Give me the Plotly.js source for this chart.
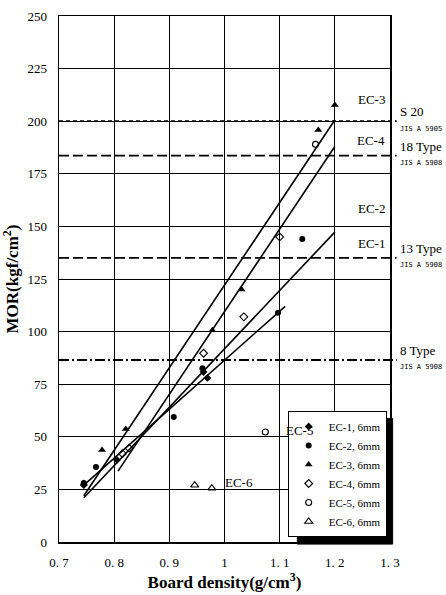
<!DOCTYPE html>
<html><head><meta charset="utf-8">
<script src="https://cdn.plot.ly/plotly-3.0.1.min.js"></script>
<style>html,body{margin:0;padding:0;background:#fff}</style>
</head><body><div id="chart" style="width:446px;height:595px"></div>
<script>
// Series data (board density g/cm3, MOR kgf/cm2)
const seriesNames = ["EC-1, 6mm","EC-2, 6mm","EC-3, 6mm","EC-4, 6mm","EC-5, 6mm","EC-6, 6mm"];
const ec1X = [0.745, 0.805, 0.962, 0.969];
const ec1Y = [27, 39, 80.8, 78];
const ec2X = [0.745, 0.767, 0.908, 0.960, 1.097, 1.141];
const ec2Y = [28, 35.6, 59.4, 82.6, 109, 144];
const ec3X = [0.745, 0.778, 0.821, 0.978, 1.031, 1.170, 1.200];
const ec3Y = [28, 43.7, 53.7, 100.7, 120, 195.8, 207.7];
const ec4X = [0.815, 0.827, 0.962, 1.035, 1.100];
const ec4Y = [42, 44.6, 89.7, 107, 145];
const ec5X = [1.074, 1.165];
const ec5Y = [52.3, 189];
const ec6X = [0.946, 0.977];
const ec6Y = [27, 25.6];
// regression lines: [x0, x1], [y0, y1]
const lineEC3X = [0.745, 1.200], lineEC3Y = [22, 200.6];
const lineEC4X = [0.807, 1.200], lineEC4Y = [33.7, 188];
const lineEC2X = [0.745, 1.200], lineEC2Y = [21, 147.3];
const lineEC1X = [0.745, 1.110], lineEC1Y = [27, 112];
// JIS standard levels
const stdValues = [200, 183.6, 135, 86.5];
const stdNames = ["S 20", "18 Type", "13 Type", "8 Type"];
const stdCodes = ["JIS A 5905", "JIS A 5908", "JIS A 5908", "JIS A 5908"];
const stdDash = ["4px,3px", "10px,4px", "10px,4px", "10px,3px,2px,3px"];
// ticks
const xTickVals = [0.7, 0.8, 0.9, 1.0, 1.1, 1.2, 1.3];
const xTickText = ["0. 7", "0. 8", "0. 9", "1", "1. 1", "1. 2", "1. 3"];
const yTickVals = [0, 25, 50, 75, 100, 125, 150, 175, 200, 225, 250];

const serif = "Liberation Serif, DejaVu Serif, serif";
const mk = [
  {symbol:"diamond", color:"#000", size:6},
  {symbol:"circle", color:"#000", size:6},
  {symbol:"triangle-up", color:"#000", size:7},
  {symbol:"diamond-open", color:"#000", size:6, line:{width:1.1}},
  {symbol:"circle-open", color:"#000", size:6, line:{width:1.1}},
  {symbol:"triangle-up-open", color:"#000", size:7, line:{width:1.1}}
];
const xs = [ec1X, ec2X, ec3X, ec4X, ec5X, ec6X];
const ys = [ec1Y, ec2Y, ec3Y, ec4Y, ec5Y, ec6Y];
const traces = [];
[[lineEC3X,lineEC3Y],[lineEC4X,lineEC4Y],[lineEC2X,lineEC2Y],[lineEC1X,lineEC1Y]].forEach(l => {
  traces.push({x:l[0], y:l[1], mode:"lines", line:{color:"#000", width:1.6}, showlegend:false, hoverinfo:"skip"});
});
seriesNames.forEach((n,i) => {
  traces.push({x:xs[i], y:ys[i], mode:"markers", name:n, marker:mk[i], cliponaxis:false});
});

const shapes = [];
const annotations = [];
// drop shadow behind the legend box (drawn first)
shapes.push({type:"rect", xref:"paper", yref:"paper", layer:"above",
  x0:0.72, x1:1.008, y0:-0.004, y1:0.235, fillcolor:"black", opacity:1, line:{color:"black", width:1}});
stdValues.forEach((v,i) => {
  shapes.push({type:"line", xref:"paper", yref:"y", x0:0, x1:1.02, y0:v, y1:v,
    line:{color:"#000", width:1.8, dash:stdDash[i]}});
  annotations.push({xref:"paper", yref:"y", x:1.025, y:v+4.5, text:stdNames[i], showarrow:false,
    xanchor:"left", font:{family:serif, size:13, color:"#000"}});
  annotations.push({xref:"paper", yref:"y", x:1.025, y:v-3.5, text:stdCodes[i], showarrow:false,
    xanchor:"left", font:{family:"DejaVu Sans Mono, monospace", size:7, color:"#000"}});
});
const labelTexts = ["EC-3","EC-4","EC-2","EC-1","EC-5","EC-6"];
const labelX = [1.266, 1.266, 1.266, 1.266, 1.136, 1.027];
const labelY = [210.5, 191, 158.7, 142, 53, 28.5];
labelTexts.forEach((t,i) => {
  annotations.push({x:labelX[i], y:labelY[i], text:t, showarrow:false,
    font:{family:serif, size:13, color:"#000"}});
});

const layout = {
  width:446, height:595,
  margin:{l:59, r:56, t:16, b:53},
  paper_bgcolor:"#fff", plot_bgcolor:"#fff",
  font:{family:serif, color:"#000"},
  xaxis:{range:[0.7,1.3], tickvals:xTickVals, ticktext:xTickText, showgrid:true, gridcolor:"#000", gridwidth:1,
    showline:true, linecolor:"#000", linewidth:1.5, mirror:true, ticks:"", zeroline:false,
    ticklabelstandoff:8,
    tickfont:{family:serif, size:13, color:"#000"},
    title:{text:"<b>Board density(g/cm<sup>3</sup>)</b>", font:{family:serif, size:17, color:"#000"}, standoff:4}},
  yaxis:{range:[0,250], tickvals:yTickVals, showgrid:true, gridcolor:"#000", gridwidth:1,
    showline:true, linecolor:"#000", linewidth:1.5, mirror:true, ticks:"", zeroline:false,
    ticklabelstandoff:8,
    tickfont:{family:serif, size:13, color:"#000"},
    title:{text:"<b>MOR(kgf/cm<sup>2</sup>)</b>", font:{family:serif, size:17, color:"#000"}, standoff:4}},
  showlegend:true,
  legend:{x:0.99, y:0.0095, xanchor:"right", yanchor:"bottom", bgcolor:"#fff", bordercolor:"#000", borderwidth:1,
    font:{family:serif, size:11, color:"#000"}, itemwidth:30, tracegroupgap:0},
  shapes:shapes, annotations:annotations
};
Plotly.newPlot("chart", traces, layout, {displayModeBar:false, staticPlot:true});
</script></body></html>
